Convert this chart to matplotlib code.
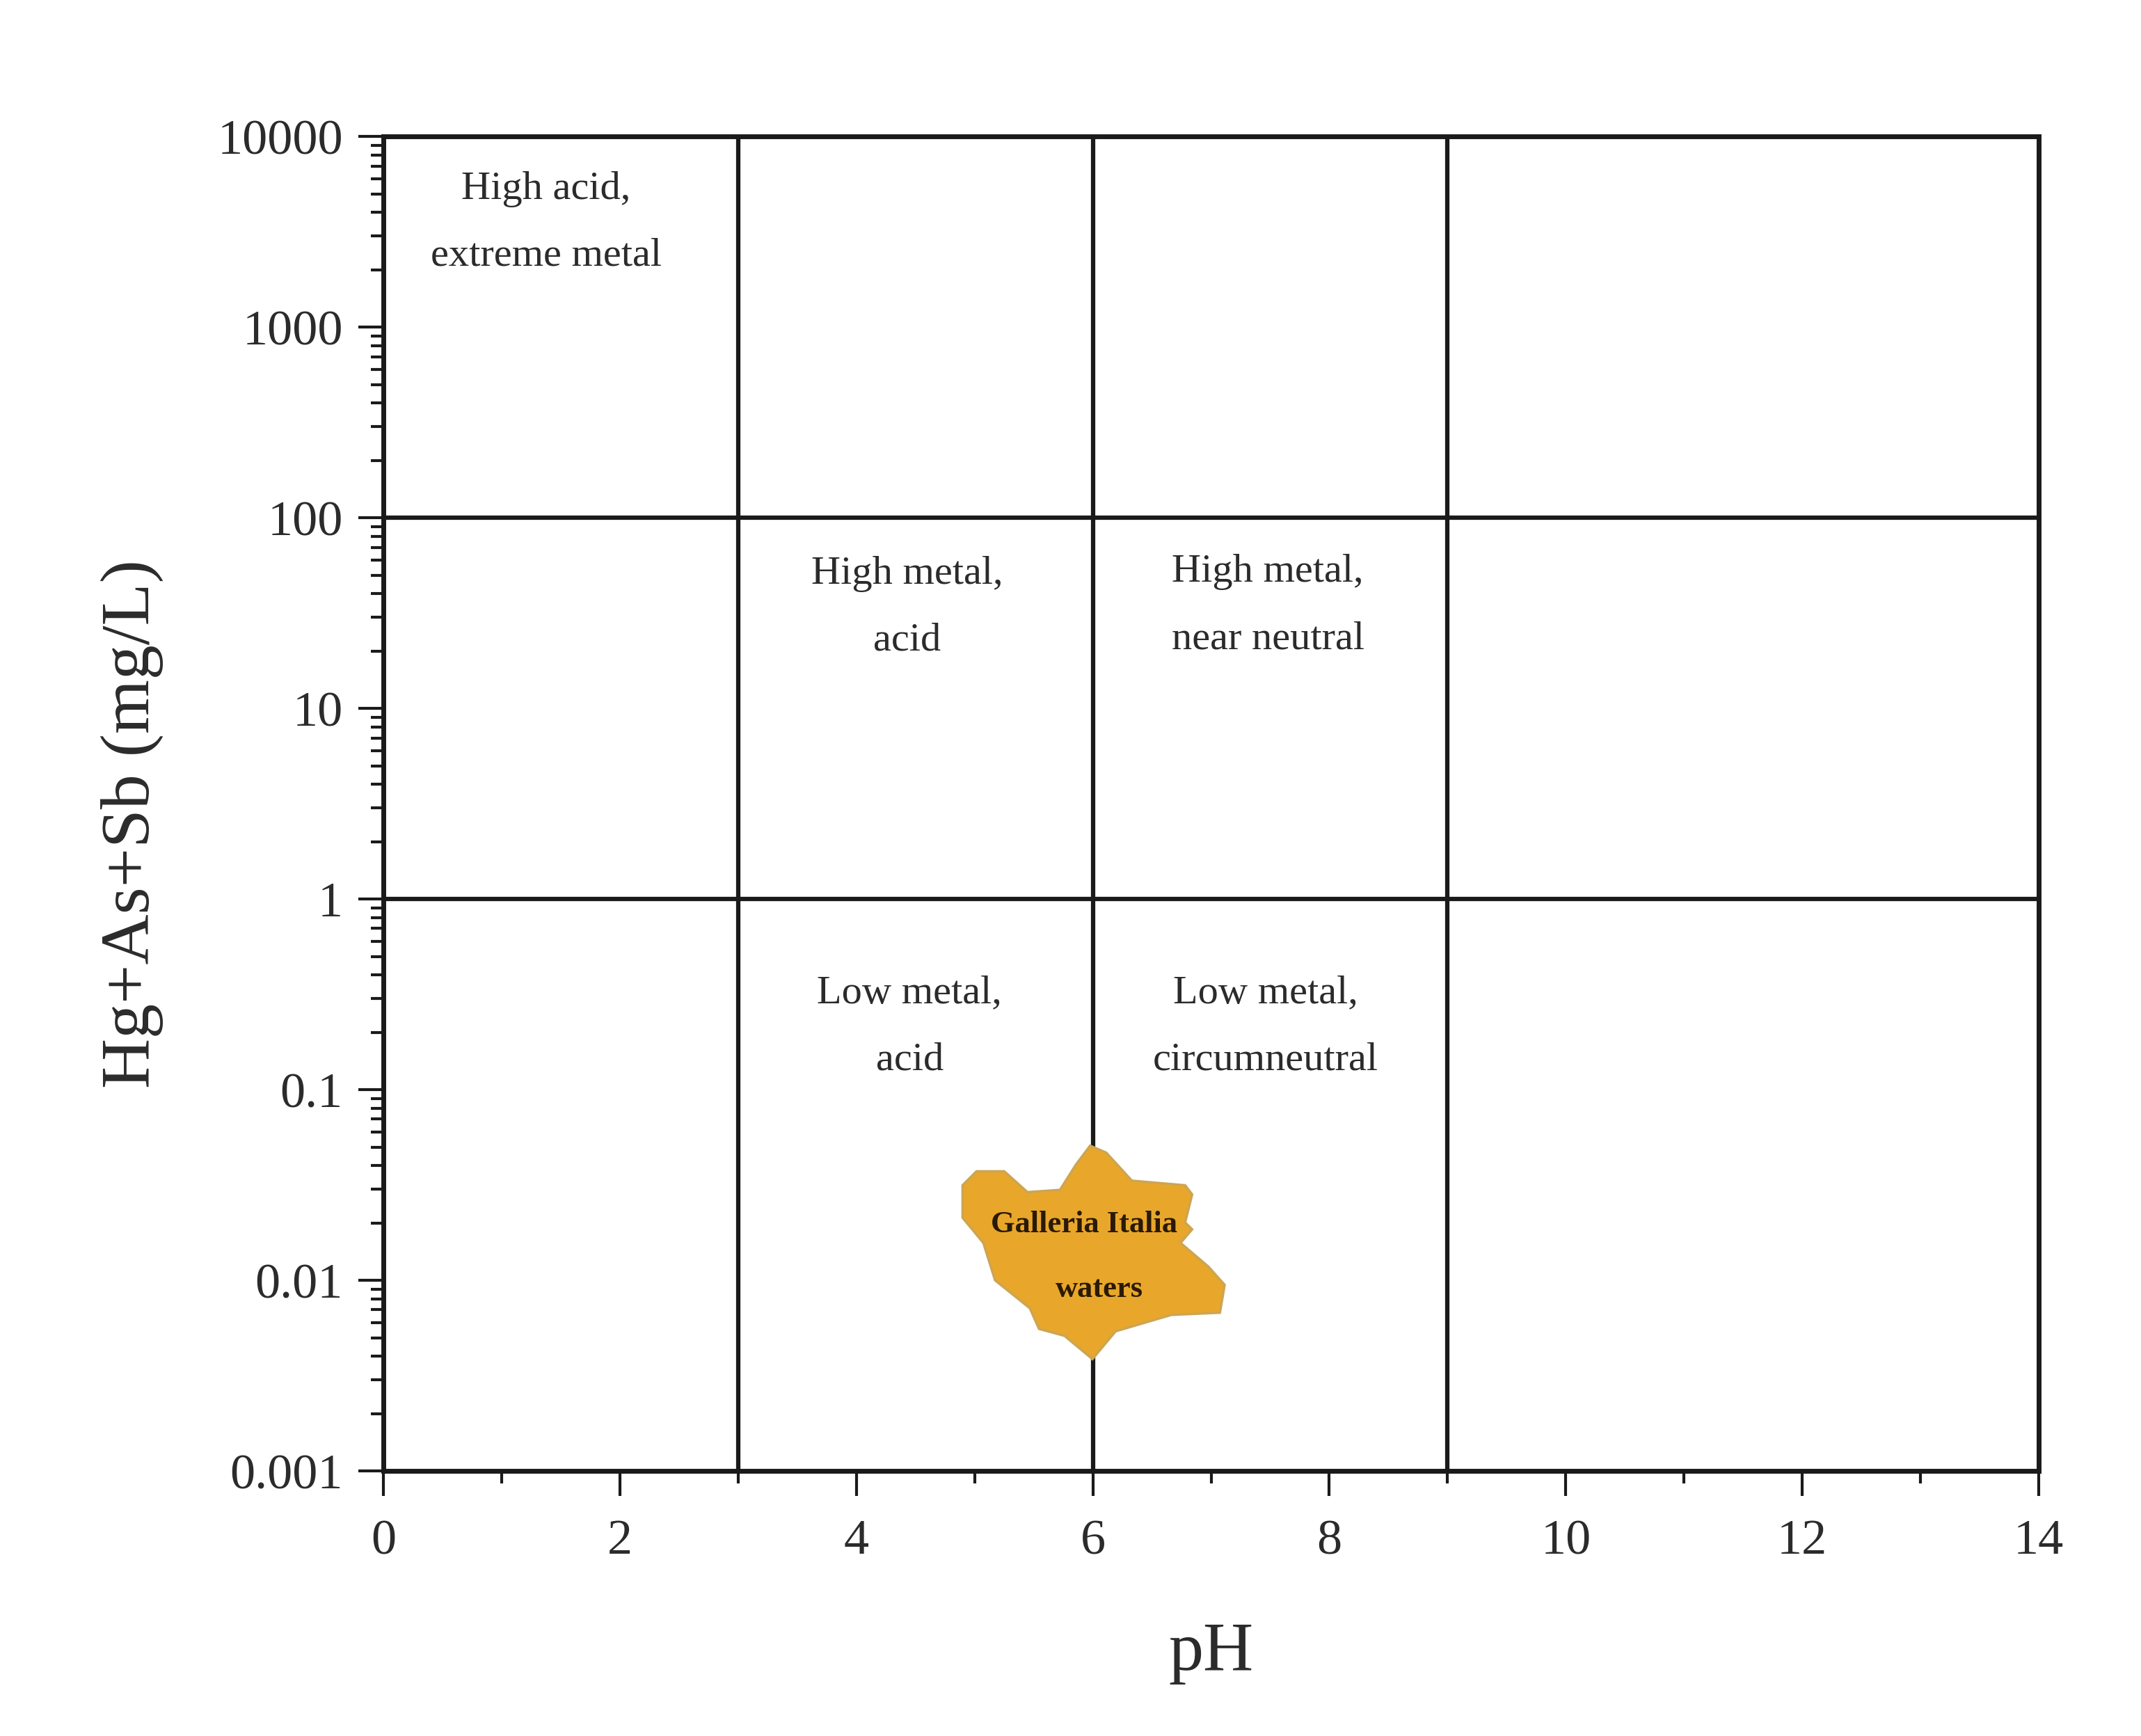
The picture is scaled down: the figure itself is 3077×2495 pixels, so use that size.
import matplotlib.pyplot as plt
import matplotlib.ticker as mticker
import numpy as np

plt.rcParams['font.family'] = ['Liberation Serif', 'DejaVu Serif']

# field boundaries (pH and Hg+As+Sb)
ph_limits = [3, 6, 9]
metal_limits = [1, 100]

x_ticks = [0, 2, 4, 6, 8, 10, 12, 14]
y_ticks = [0.001, 0.01, 0.1, 1, 10, 100, 1000, 10000]
y_tick_labels = ["0.001", "0.01", "0.1", "1", "10", "100", "1000", "10000"]

# field names
field_names = ["High acid,\nextreme metal", "High metal,\nacid", "High metal,\nnear neutral",
               "Low metal,\nacid", "Low metal,\ncircumneutral"]
field_ph = [1.375, 4.43, 7.48, 4.45, 7.46]
field_conc = [3540, 33.9, 34.7, 0.214, 0.214]

# Galleria Italia waters field (outline)
blob_ph = [5.977, 6.114, 6.330, 6.781, 6.840, 6.781, 6.840, 6.742, 6.977, 7.115,
           7.075, 6.663, 6.193, 5.997, 5.879, 5.761, 5.545, 5.467, 5.173, 5.074,
           4.898, 4.898, 5.016, 5.251, 5.447, 5.722, 5.859]
blob_conc = [0.0508, 0.0467, 0.0333, 0.0315, 0.0282, 0.0201, 0.0185, 0.0157, 0.0118, 0.00946,
             0.00676, 0.00658, 0.00540, 0.00386, 0.00444, 0.00511, 0.00556, 0.00714, 0.0100, 0.0157,
             0.0213, 0.0315, 0.0373, 0.0373, 0.0290, 0.0298, 0.0406]

fig = plt.figure(figsize=(30.77, 24.95), dpi=100)
ax = fig.add_axes([0.1791, 0.1527, 0.7731, 0.7687])

txt = '#2b2b2b'

for p in ph_limits:
    ax.axvline(p, color='#1a1a1a', lw=4.5, zorder=1)
for m in metal_limits:
    ax.axhline(m, color='#1a1a1a', lw=4.5, zorder=1)

ax.fill(blob_ph, blob_conc, facecolor='#E8A72B', edgecolor='#CDA552', lw=2.5, zorder=3)
ax.text(5.926, 0.0196, "Galleria Italia", fontsize=32, fontweight='bold', color='#2a1a05',
        ha='center', va='center', zorder=4)
ax.text(6.055, 0.00897, "waters", fontsize=32, fontweight='bold', color='#2a1a05',
        ha='center', va='center', zorder=4)

for name, p, c in zip(field_names, field_ph, field_conc):
    ax.text(p, c, name, fontsize=42, color=txt, ha='center', va='center',
            linespacing=2.1, zorder=2)

ax.set_yscale('log')
ax.set_xlim(0, 14)
ax.set_ylim(0.001, 10000)
ax.set_xticks(x_ticks)
ax.set_xticklabels([str(t) for t in x_ticks])
ax.set_yticks(y_ticks)
ax.set_yticklabels(y_tick_labels)
ax.xaxis.set_minor_locator(mticker.MultipleLocator(1))
ax.yaxis.set_minor_locator(mticker.LogLocator(base=10, subs=np.arange(2, 10), numticks=20))
ax.yaxis.set_minor_formatter(mticker.NullFormatter())

ax.tick_params(which='major', direction='out', length=26, width=3, labelsize=52,
               pad=16, colors='#1a1a1a', labelcolor=txt)
ax.tick_params(axis='x', which='major', pad=24)
ax.tick_params(which='minor', direction='out', length=13, width=3, colors='#1a1a1a')
ax.tick_params(top=False, right=False, which='both')

for s in ax.spines.values():
    s.set_linewidth(5)
    s.set_color('#1a1a1a')

ax.set_ylabel("Hg+As+Sb (mg/L)", fontsize=72, color=txt)
ax.set_xlabel("pH", fontsize=72, color=txt)
ax.yaxis.set_label_coords(-0.133, 0.485)
ax.xaxis.set_label_coords(0.5, -0.113)

fig.savefig('out.png', dpi=100)
